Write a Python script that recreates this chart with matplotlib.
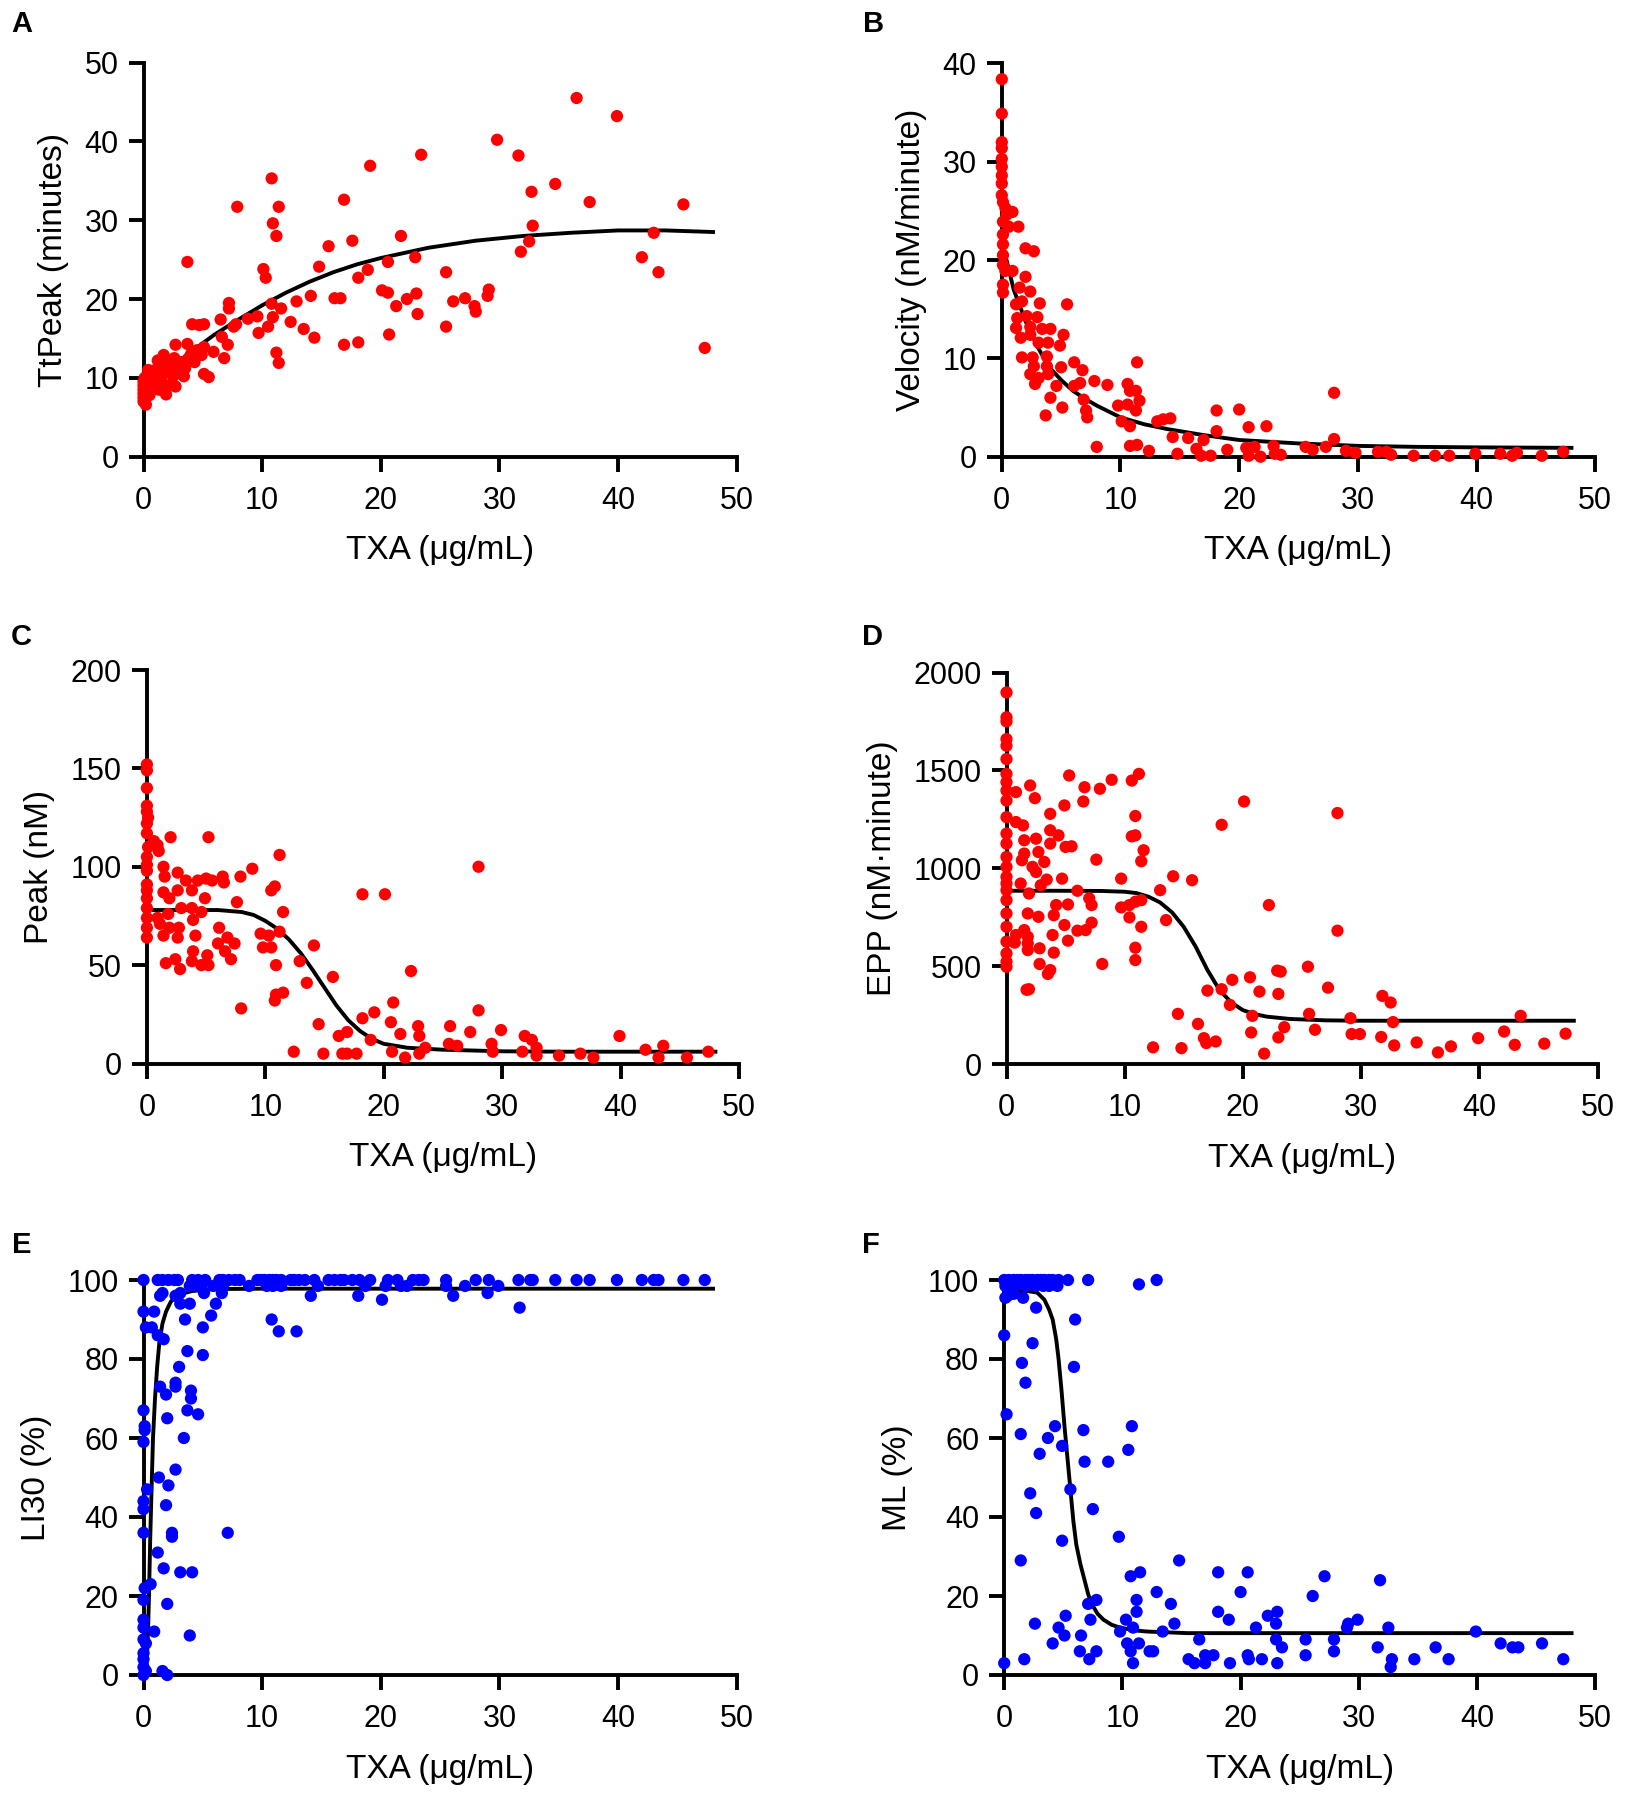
import matplotlib
matplotlib.use("Agg")
import matplotlib.pyplot as plt

plt.rcParams['font.family'] = ['Liberation Sans', 'DejaVu Sans']

RED = "#ff0000"
BLUE = "#0000ff"
XLABEL = "TXA (μg/mL)"
XTICKS = [0, 10, 20, 30, 40, 50]

# ---- A: TtPeak ----
ttpeak_x = [36.5, 39.9, 29.8, 23.4, 31.6, 19.1, 10.8, 34.7, 32.7, 16.9, 7.9, 11.4, 37.6, 45.5,
            10.9, 32.8, 11.2, 21.7, 43.0, 17.6, 32.5, 15.6, 31.8, 3.7, 20.6, 22.9, 42.0, 10.1,
            14.8, 18.9, 10.3, 18.1, 25.5, 43.4, 20.1, 20.6, 22.2, 23.0, 29.1, 29.0, 14.1, 12.9,
            16.1, 16.6, 26.1, 27.1, 21.3, 27.9, 28.0, 23.1, 25.5, 20.7, 16.9, 18.1, 47.3, 14.4,
            13.5, 12.4, 11.6, 10.8, 10.9, 10.5, 9.7, 9.6, 8.8, 11.2, 11.4, 7.2, 7.2, 6.5, 7.8,
            7.6, 5.1, 4.7, 4.1, 6.6, 7.1, 6.8, 5.9, 5.1, 4.9, 3.7, 2.7, 1.7, 5.1, 5.5, 3.4, 1.9,
            2.7, 0.2,
            0.0, 0.0, 0.0, 0.0, 0.0, 0.0, 0.1, 0.2, 0.3, 0.5, 0.5, 0.6, 0.8, 1.0, 1.0, 1.2, 1.3,
            1.5, 1.5, 1.7, 2.0, 2.0, 2.2, 2.5, 2.6, 2.8, 3.0, 3.2, 3.5, 3.8, 4.0, 4.3, 4.5, 1.2,
            0.4]
ttpeak_y = [45.5, 43.2, 40.2, 38.3, 38.2, 36.9, 35.3, 34.6, 33.6, 32.6, 31.7, 31.7, 32.3, 32.0,
            29.6, 29.3, 28.0, 28.0, 28.4, 27.4, 27.3, 26.7, 26.0, 24.7, 24.7, 25.3, 25.3, 23.8,
            24.1, 23.7, 22.7, 22.7, 23.4, 23.4, 21.1, 20.8, 20.0, 20.7, 21.2, 20.4, 20.4, 19.7,
            20.1, 20.1, 19.7, 20.1, 19.1, 19.1, 18.4, 18.1, 16.5, 15.5, 14.2, 14.5, 13.8, 15.1,
            16.2, 17.1, 18.8, 19.4, 17.7, 16.5, 15.7, 17.8, 17.5, 13.2, 11.9, 19.5, 18.8, 17.4,
            16.8, 16.5, 16.8, 16.7, 16.8, 15.2, 14.2, 12.5, 13.3, 13.9, 12.9, 14.3, 14.2, 12.9,
            10.5, 10.1, 10.2, 7.9, 8.9, 6.6,
            7.0, 7.5, 8.0, 8.5, 9.0, 9.5, 10.0, 8.2, 9.2, 7.8, 9.8, 10.5, 8.8, 9.5, 11.0, 10.0,
            8.5, 11.5, 9.7, 10.6, 12.0, 9.0, 11.0, 10.2, 12.5, 11.5, 10.8, 12.0, 11.2, 12.5, 13.0,
            12.0, 13.5, 12.2, 11.0]
ttpeak_fit_x = [0, 2, 4, 6, 8, 10, 12, 14, 16, 18, 20, 24, 28, 32, 36, 40, 44, 48]
ttpeak_fit_y = [8.5, 11.0, 13.3, 15.5, 17.4, 19.2, 20.8, 22.2, 23.4, 24.4, 25.2, 26.5, 27.4,
                28.0, 28.4, 28.7, 28.7, 28.5]

# ---- B: Velocity ----
vel_x = [0, 0, 0, 0, 0, 0, 0, 0, 0, 0.1, 0.3, 0.9, 0.4, 0.1, 0.6, 1.4, 0.1, 0.1, 0.1, 0.1, 0.3,
         0.9, 0.1, 0.1, 2.0, 2.7, 2.0, 1.5, 2.4, 3.2, 5.5, 1.2, 1.7, 1.3, 2.1, 3.0, 1.2, 2.4, 3.4,
         4.1, 5.2, 1.6, 2.4, 3.1, 3.9, 4.9, 1.7, 2.6, 3.8, 6.1, 2.7, 3.8, 5.0, 6.8, 11.4, 2.4,
         3.1, 3.9, 7.8, 2.8, 6.1, 6.6, 8.9, 4.6, 10.6, 10.8, 11.3, 4.1, 6.9, 11.6, 10.6, 9.8,
         5.1, 7.1, 11.3, 3.7, 7.2, 10.1, 10.8, 13.1, 13.6, 14.2, 28.0, 18.1, 20.0, 18.1, 20.8,
         22.3, 14.4, 15.7, 17.0, 8.0, 10.8, 11.4, 12.4, 14.8, 16.4, 16.8, 17.6, 19.0, 20.6, 21.3,
         20.8, 21.8, 22.9, 23.0, 23.5, 25.6, 26.2, 27.3, 28.0, 29.0, 29.8, 31.7, 32.4, 32.8,
         34.7, 36.5, 37.7, 39.9, 42.0, 43.0, 43.4, 45.5, 47.3]
vel_y = [38.4, 34.9, 32.0, 31.4, 30.3, 29.5, 28.6, 27.8, 26.6, 25.9, 25.3, 24.9, 24.6, 23.9,
         23.4, 23.4, 22.6, 21.6, 20.5, 19.5, 18.9, 18.9, 17.5, 16.7, 21.2, 20.9, 18.3, 17.2, 16.8,
         15.6, 15.5, 15.5, 15.8, 14.1, 14.3, 14.2, 13.1, 13.2, 13.0, 13.0, 12.4, 12.1, 12.4, 11.6,
         11.6, 11.3, 10.1, 10.1, 10.2, 9.6, 9.2, 9.2, 9.1, 8.8, 9.6, 8.4, 8.0, 8.4, 7.7, 7.4, 7.2,
         7.5, 7.3, 7.2, 7.4, 6.7, 6.7, 6.0, 5.8, 5.7, 5.3, 5.2, 5.0, 4.7, 4.7, 4.2, 4.0, 3.6, 3.1,
         3.6, 3.8, 3.9, 6.5, 4.7, 4.8, 2.6, 3.0, 3.1, 2.0, 1.9, 1.7, 1.0, 1.1, 1.2, 0.6, 0.3, 0.8,
         0.1, 0.1, 0.7, 0.9, 1.0, 0.1, 0.0, 1.1, 0.3, 0.2, 1.0, 0.7, 1.0, 1.8, 0.6, 0.4, 0.5, 0.5,
         0.2, 0.1, 0.1, 0.1, 0.3, 0.3, 0.1, 0.4, 0.1, 0.5]
vel_fit_x = [0.3, 1, 2, 3, 4, 5, 6, 7, 8, 10, 12, 14, 17, 20, 25, 30, 35, 40, 48]
vel_fit_y = [20.5, 17.0, 13.8, 11.2, 9.1, 7.8, 6.7, 5.9, 5.2, 4.0, 3.3, 2.8, 2.2, 1.7, 1.35,
             1.1, 1.0, 0.95, 0.9]

# ---- C: Peak ----
peak_x = [0, 0, 0, 0, 0, 0.1, 0, 0, 0.6, 0.9, 0.1, 1.0, 0, 2.0, 5.2, 11.2, 0, 1.4, 0, 2.6, 1.5,
          3.3, 4.3, 5.0, 5.5, 6.4, 6.5, 7.9, 8.9, 0, 0, 1.4, 2.6, 3.8, 10.5, 10.8, 0, 1.9, 4.9,
          7.6, 2.9, 3.8, 0, 0, 0.9, 1.8, 4.6, 11.5, 0, 1.1, 1.9, 2.7, 3.9, 0, 1.4, 2.6, 4.1, 6.1,
          6.8, 7.4, 6.0, 9.6, 10.3, 11.2, 9.8, 10.5, 3.9, 6.6, 7.1, 14.1, 1.6, 2.4, 2.8, 3.8, 4.6,
          5.1, 5.2, 10.9, 12.9, 22.3, 15.7, 13.5, 18.2, 20.1, 28.0, 10.9, 11.5, 10.8, 7.96, 20.8,
          19.2, 18.2, 28.0, 14.5, 20.6, 22.9, 25.6, 16.2, 16.9, 23.0, 21.4, 27.3, 29.9, 31.9,
          32.5, 39.9, 18.9, 25.5, 26.2, 29.1, 32.9, 42.1, 43.6, 12.4, 14.9, 16.5, 16.9, 17.7,
          20.7, 21.8, 23.0, 23.5, 29.2, 31.7, 32.9, 34.8, 36.6, 37.7, 43.2, 45.6, 47.4]
peak_y = [152, 149, 140, 131, 128, 125, 122, 117, 113, 111, 110, 108, 105, 115, 115, 106, 101,
          100, 98, 97, 95, 93, 93, 94, 93, 95, 92, 95, 99, 91, 88, 87, 88, 88, 88, 90, 84, 84, 84,
          82, 79, 79, 79, 74, 74, 76, 77, 77, 69, 71, 69, 69, 73, 64, 65, 64, 65, 69, 64, 61, 61,
          66, 65, 67, 59, 59, 57, 57, 53, 60, 51, 53, 48, 52, 50, 55, 50, 50, 52, 47, 44, 41, 86,
          86, 100, 35, 36, 32, 28, 31, 26, 23, 27, 20, 21, 19, 19, 14, 16, 14, 15, 16, 17, 14, 12,
          14, 12, 10, 9, 10, 8, 7, 9, 6, 5, 5, 5, 5, 6, 3, 5, 8, 6, 6, 4, 4, 5, 3, 3, 3, 6]
peak_fit_x = [0.6, 2, 4, 6, 8, 9, 10, 11, 12, 13, 14, 15, 16, 17, 18, 19, 20, 22, 25, 30, 35, 48]
peak_fit_y = [78, 78, 78, 78, 77, 75.5, 72.5, 68.5, 63, 56, 47.5, 38.5, 29.5, 22, 16.5, 12.5,
              10, 8, 7, 6.2, 6, 6]

# ---- D: EPP ----
epp_x = [0, 0, 0, 0, 0, 0, 0, 0, 0, 0.8, 2.0, 5.3, 6.6, 7.9, 8.9, 10.6, 11.2, 2.4, 6.5, 0, 4.9,
         20.1, 28.0, 3.7, 10.9, 0, 0.8, 1.4, 18.2, 3.7, 0, 4.4, 10.6, 10.9, 3.7, 1.5, 2.5, 0, 5.0,
         5.5, 11.6, 1.5, 2.7, 0, 1.3, 3.2, 7.6, 11.4, 0, 2.2, 2.5, 0, 3.4, 4.7, 9.7, 14.1, 15.7,
         0, 1.2, 2.9, 13.0, 0, 1.9, 6.0, 0, 7.0, 7.2, 5.2, 4.2, 9.7, 10.4, 10.9, 11.4, 22.2, 0,
         1.8, 2.7, 4.0, 10.4, 7.2, 4.9, 11.4, 13.5, 28.0, 0, 1.5, 0.8, 3.9, 6.0, 6.7, 1.8, 0, 0.7,
         1.8, 5.2, 2.8, 1.8, 10.9, 4.0, 10.9, 0, 0, 0, 2.8, 8.1, 3.7, 3.5, 1.7, 1.9, 25.5, 22.9,
         23.2, 20.6, 19.1, 27.2, 17.0, 18.2, 21.4, 23.0, 31.8, 32.5, 18.9, 20.8, 25.6, 29.1,
         32.7, 43.5, 14.5, 16.2, 23.5, 26.1, 20.7, 29.2, 29.9, 31.7, 42.1, 47.3, 39.9, 16.7, 17.7,
         16.9, 23.0, 34.7, 32.8, 37.6, 43.0, 45.5, 12.4, 14.8, 36.5, 21.8]
epp_y = [1898, 1771, 1750, 1660, 1626, 1558, 1482, 1440, 1397, 1389, 1423, 1474, 1414, 1406,
         1452, 1448, 1482, 1358, 1341, 1346, 1321, 1341, 1282, 1278, 1267, 1261, 1236, 1219,
         1222, 1194, 1177, 1168, 1163, 1168, 1126, 1143, 1151, 1126, 1109, 1112, 1092, 1075,
         1083, 1058, 1041, 1032, 1044, 1036, 1007, 1007, 981, 956, 942, 947, 947, 959, 939, 922,
         922, 913, 888, 888, 871, 885, 837, 846, 812, 815, 812, 800, 812, 829, 837, 812, 769, 769,
         752, 760, 749, 722, 710, 701, 735, 681, 701, 684, 659, 659, 681, 684, 650, 625, 620, 616,
         630, 591, 582, 594, 569, 531, 565, 523, 497, 511, 511, 480, 460, 379, 382, 497, 477, 472,
         443, 430, 390, 375, 382, 370, 358, 348, 314, 302, 246, 256, 234, 214, 246, 256, 205, 188,
         175, 161, 153, 153, 138, 166, 155, 132, 132, 115, 107, 136, 110, 95, 90, 98, 104, 85, 81,
         59, 53]
epp_fit_x = [0.6, 4, 8, 10, 11, 12, 13, 14, 15, 16, 17, 18, 19, 20, 21, 22, 24, 27, 30, 48]
epp_fit_y = [885, 885, 884, 880, 873, 855, 825, 775, 700, 600, 480, 380, 315, 275, 255, 242,
             230, 223, 221, 221]

# ---- E: LI30 ----
li30_x = [0, 1.2, 1.6, 2.1, 2.6, 2.9, 4.1, 4.6, 5.2, 6.4, 6.7, 7.2, 7.7, 8.1, 9.6, 9.9, 10.2,
          10.6, 10.9, 11.2, 11.6, 12.4, 12.7, 13.1, 13.6, 14.4, 15.6, 16.1, 16.6, 16.9, 17.6,
          18.2, 19.1, 20.6, 21.4, 22.7, 23.2, 23.6, 25.5, 28.0, 29.1, 31.6, 32.6, 32.8, 34.7,
          36.5, 37.6, 39.9, 42.0, 43.0, 43.4, 45.5, 47.3,
          3.9, 4.4, 4.9, 5.9, 6.7, 8.9, 10.4, 10.9, 11.6, 14.7, 18.7, 20.4, 21.7, 22.2, 25.5,
          27.1, 29.9,
          1.6, 3.1, 5.1, 6.6, 29.0,
          2.7, 3.1, 3.9, 6.1, 1.4, 14.1, 18.1, 20.1, 26.1, 31.7, 0, 0.9, 3.5, 5.7, 10.8, 11.4,
          12.9, 5.0, 0.2, 0.7, 1.2, 1.7, 3.7, 5.0, 3.0, 1.4, 2.7, 2.7, 1.9, 4.0, 4.0, 0, 3.7, 4.6,
          0.1, 0.1, 2.0, 0, 3.4, 2.7, 1.3, 2.1, 0.3, 0, 0, 1.9, 7.1, 0, 2.4, 2.4, 1.2, 1.7, 3.1,
          4.1, 0.6, 0.1, 0, 2.0, 0, 0, 0.9, 3.9, 0, 0.2, 0, 0, 0, 0, 0.2, 1.6, 2.0]
li30_y = [100] * 53 + [98.5] * 17 + [96.7] * 5 + \
         [96, 94, 94, 94, 96, 96, 96, 95, 96, 93, 92, 92, 90, 91, 90, 87, 87, 88, 88, 88, 86, 85,
          82, 81, 78, 73, 74, 73, 71, 72, 70, 67, 67, 66, 63, 62, 65, 59, 60, 52, 50, 48, 47, 44,
          42, 43, 36, 36, 36, 35, 31, 27, 26, 26, 23, 22, 19, 18, 14, 12, 11, 10, 9, 8, 5.5, 4, 2,
          0, 1, 1, 0]
li30_fit_x = [0.22, 0.3, 0.4, 0.47, 0.57, 0.67, 0.8, 0.97, 1.15, 1.33, 1.6, 1.9, 2.3, 2.7, 3.3,
              4.1, 6, 10, 48]
li30_fit_y = [0, 5, 13, 21, 35, 46, 60, 70, 78, 84, 89, 92, 94.5, 95.7, 96.6, 97.2, 97.7, 97.8,
              97.8]

# ---- F: ML ----
ml_x = [0, 0.4, 0.8, 1.1, 1.4, 1.8, 2.1, 2.4, 2.8, 3.1, 3.4, 3.8, 4.1, 4.6, 5.4, 7.1, 12.9, 11.4,
        0.1, 0.6, 0.9, 1.8, 2.6, 3.3, 3.8, 4.5,
        0.1, 0.3, 0.8, 1.6,
        2.7, 6.0, 0, 2.4, 1.5, 5.9, 1.8, 0.2, 1.4, 4.3, 6.7, 10.8, 3.7, 4.9, 10.5, 3.0, 6.8, 8.8,
        5.6, 2.2, 2.7, 7.5, 9.7, 4.9, 1.4, 14.8, 10.7, 11.5, 18.1, 20.6, 27.1, 31.8, 12.9, 20.0,
        7.1, 7.8, 11.2, 14.1, 26.1, 11.2, 18.1, 5.2, 7.3, 10.3, 22.3, 23.1, 19.0, 2.6, 4.6, 5.1,
        14.4, 23.0, 29.1, 29.9, 9.8, 10.9, 13.4, 21.3, 29.0, 32.5, 39.9, 6.5, 4.1, 10.4, 11.4,
        16.5, 23.0, 25.5, 27.9, 42.0, 43.0, 43.5, 45.5, 10.7, 6.4, 7.8, 12.3, 12.6, 23.5, 27.9,
        31.6, 36.5, 0, 1.7, 7.2, 10.9, 15.6, 16.1, 17.0, 17.0, 17.7, 19.1, 20.6, 20.7, 21.8, 23.1,
        25.5, 32.8, 32.7, 34.7, 37.6, 47.3]
ml_y = [100] * 17 + [98.9] + [98.5] * 8 + [95.5, 96, 96.5, 95.5] + \
       [93, 90, 86, 84, 79, 78, 74, 66, 61, 63, 62, 63, 60, 58, 57, 56, 54, 54, 47, 46, 41, 42,
        35, 34, 29, 29, 25, 26, 26, 26, 25, 24, 21, 21, 18, 19, 19, 18, 20, 16, 16, 15, 14, 14,
        15, 16, 14, 13, 12, 10, 13, 13, 13, 14, 11, 12, 11, 12, 12, 12, 11, 10, 8, 8, 8, 9, 9, 9,
        9, 8, 7, 7, 8, 6, 6, 6, 6, 6, 7, 6, 7, 7, 3, 4, 4, 3, 4, 3, 5, 3, 5, 3, 5, 4, 4, 3, 5, 4,
        2, 4, 4, 4]
ml_fit_x = [0, 2, 2.8, 3.4, 3.8, 4.1, 4.4, 4.6, 4.85, 5.1, 5.35, 5.6, 5.85, 6.1, 6.45, 6.8, 7.1,
            7.4, 7.9, 8.4, 9.1, 9.8, 11, 12.1, 15.5, 48]
ml_fit_y = [97.2, 97.2, 96.8, 95, 92.5, 90, 85, 80, 72, 63, 55, 47, 39, 33, 28, 24, 20.5, 18,
            15.5, 14, 12.7, 12, 11.3, 11, 10.6, 10.6]

fig = plt.figure(figsize=(16.25, 18), dpi=100)

W, H = 1625, 1800


def make_axes(x0, x50, ytop, y0):
    return fig.add_axes([x0 / W, 1 - y0 / H, (x50 - x0) / W, (y0 - ytop) / H])


def style(ax, xs, ys, fx, fy, color, ylim, yticks, ylabel):
    ax.plot(fx, fy, color="black", lw=2.8, zorder=2, clip_on=False)
    ax.scatter(xs, ys, s=78, color=color, edgecolors="none", zorder=3, clip_on=False)
    ax.set_xlim(0, 50)
    ax.set_ylim(*ylim)
    ax.set_xticks(XTICKS)
    ax.set_yticks(yticks)
    for side in ("top", "right"):
        ax.spines[side].set_visible(False)
    for side in ("left", "bottom"):
        ax.spines[side].set_linewidth(2.8)
    ax.tick_params(length=11, width=2.8, labelsize=22, color="black")
    ax.tick_params(axis="x", pad=10)
    ax.tick_params(axis="y", pad=7)
    ax.set_xlabel(XLABEL, fontsize=24, labelpad=14)
    ax.set_ylabel(ylabel, fontsize=24, labelpad=11)


axA = make_axes(143.5, 736.8, 62.5, 456.7)
style(axA, ttpeak_x, ttpeak_y, ttpeak_fit_x, ttpeak_fit_y, RED, (0, 50),
      [0, 10, 20, 30, 40, 50], "TtPeak (minutes)")

axB = make_axes(1001.8, 1595.2, 63.5, 456.7)
style(axB, vel_x, vel_y, vel_fit_x, vel_fit_y, RED, (0, 40),
      [0, 10, 20, 30, 40], "Velocity (nM/minute)")

axC = make_axes(146.9, 739.1, 670, 1063.5)
style(axC, peak_x, peak_y, peak_fit_x, peak_fit_y, RED, (0, 200),
      [0, 50, 100, 150, 200], "Peak (nM)")

axD = make_axes(1006.5, 1597.5, 672.5, 1064)
style(axD, epp_x, epp_y, epp_fit_x, epp_fit_y, RED, (0, 2000),
      [0, 500, 1000, 1500, 2000], "EPP (nM·minute)")

axE = make_axes(143.5, 736.8, 1280, 1675)
style(axE, li30_x, li30_y, li30_fit_x, li30_fit_y, BLUE, (0, 100),
      [0, 20, 40, 60, 80, 100], "LI30 (%)")

axF = make_axes(1004.2, 1595.2, 1280, 1675)
style(axF, ml_x, ml_y, ml_fit_x, ml_fit_y, BLUE, (0, 100),
      [0, 20, 40, 60, 80, 100], "ML (%)")

letters = [("A", 11, 32), ("B", 863, 32), ("C", 11, 645), ("D", 862, 645),
           ("E", 12, 1253), ("F", 862, 1253)]
for letter, lx, ly in letters:
    fig.text(lx / W, 1 - ly / H, letter, fontsize=21, fontweight="bold",
             ha="left", va="baseline")

fig.savefig("out.png", dpi=100)
